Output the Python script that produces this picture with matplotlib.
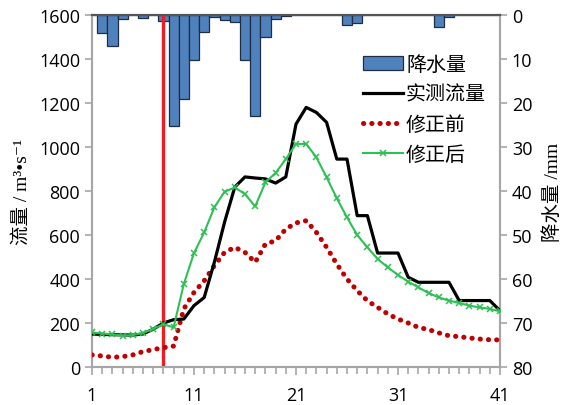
import matplotlib
matplotlib.use("Agg")
import matplotlib.pyplot as plt
from matplotlib.ticker import MultipleLocator
import numpy as np

plt.rcParams['font.family'] = ['Open Sans', 'Noto Sans CJK SC', 'DejaVu Sans']

days = list(range(1, 42))
rain = [0, 4.1, 7.1, 0.9, 0, 0.6, 0, 1.3, 25.3, 19.1, 10.2, 3.8, 0.5, 1.2, 1.5,
        10.2, 22.9, 4.9, 0.9, 0.2, 0.1, 0.1, 0.1, 0.1, 0, 2.3, 1.8, 0, 0, 0,
        0.1, 0.1, 0.1, 0.1, 2.8, 0.5, 0, 0, 0, 0, 0]
measured = [150, 148, 147, 146, 145, 150, 172, 200, 215, 218, 279, 316, 477, 659,
            818, 864, 859, 855, 836, 864, 1104, 1180, 1157, 1112, 945, 945, 688,
            688, 518, 518, 518, 408, 385, 385, 385, 385, 302, 302, 302, 302, 256]
before = [55, 50, 44, 47, 55, 70, 79, 88, 95, 264, 339, 392, 461, 521, 544, 521,
          476, 559, 574, 627, 655, 665, 612, 544, 468, 400, 347, 301, 271, 241,
          218, 200, 180, 170, 155, 142, 138, 132, 127, 124, 123]
after = [157, 152, 148, 143, 145, 155, 173, 195, 180, 377, 518, 612, 726, 797,
         816, 786, 730, 839, 882, 945, 1014, 1014, 953, 862, 767, 680, 600, 544,
         491, 453, 418, 388, 362, 336, 316, 302, 291, 279, 271, 264, 253]
split_day = 8

fig = plt.figure(figsize=(5.66, 4.06), dpi=100)
ax = fig.add_axes([92/566, 38/406, 408/566, 352/406])
ax2 = ax.twinx()

gray = '#a6a6a6'
cjk = ['Noto Sans CJK SC', 'DejaVu Sans']
serif_cjk = ['Liberation Serif', 'Noto Sans CJK SC', 'DejaVu Sans']

# rain bars on secondary (inverted) axis
bars = ax2.bar(days, rain, width=1.0, color='#4f81bd', edgecolor='#1f2d44',
               linewidth=0.9, label='降水量', zorder=1)
ax2.set_ylim(80, 0)
ax2.yaxis.set_major_locator(MultipleLocator(10))

ax.set_zorder(ax2.get_zorder() + 1)
ax.patch.set_visible(False)

ax.axvline(split_day, color='#ee1c25', lw=2.4, zorder=2)
l1, = ax.plot(days, measured, color='black', lw=2.3, label='实测流量', zorder=4)
l2, = ax.plot(days, before, color='#c00000', lw=3.6, linestyle=(0, (0.05, 1.6)),
              dash_capstyle='round', label='修正前', zorder=3)
l3, = ax.plot(days, after, color='#2fc055', lw=1.5, marker='x', ms=4,
              mew=1.1, label='修正后', zorder=5)

ax.set_xlim(1, 41)
ax.set_ylim(0, 1600)
ax.set_xticks([1, 11, 21, 31, 41])
ax.xaxis.set_minor_locator(MultipleLocator(1))
ax.yaxis.set_major_locator(MultipleLocator(200))

for a in (ax, ax2):
    for s in a.spines.values():
        s.set_color(gray)
        s.set_linewidth(1.5)
    a.spines['top'].set_color('#555555')
    a.spines['top'].set_linewidth(1.5)
ax.tick_params(axis='both', which='both', color=gray, width=1.2, labelsize=13,
               length=5)
ax.tick_params(axis='x', which='major', length=6, pad=8)
ax.tick_params(axis='x', which='minor', length=5)
ax2.tick_params(axis='y', color=gray, width=1.2, labelsize=13, length=5)

ax.set_ylabel('流量 / m³•s⁻¹', fontsize=14, family=serif_cjk, labelpad=6)
ax2.set_ylabel('降水量 /mm', fontsize=14, family=serif_cjk, labelpad=8)

handles = [bars, l1, l2, l3]
leg = ax.legend(handles, [h.get_label() for h in handles], loc='upper right',
                bbox_to_anchor=(1.0, 0.93), frameon=False,
                prop={'family': cjk, 'size': 14.4}, handlelength=2.0,
                handletextpad=0.15, labelspacing=0.45, borderaxespad=0.3,
                markerscale=1.0)

fig.savefig('out.png', dpi=100)
